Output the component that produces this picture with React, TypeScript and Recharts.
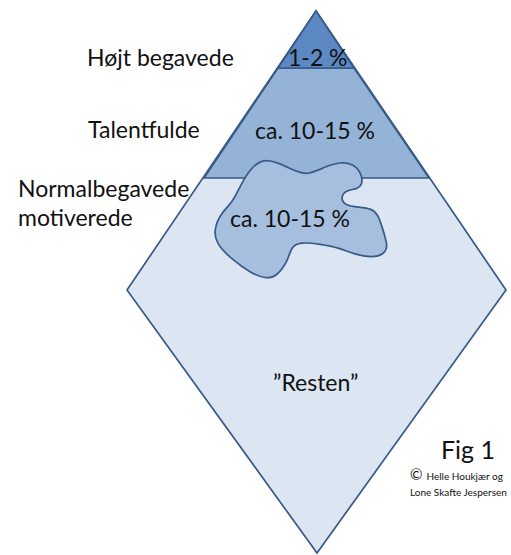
import { ScatterChart, Scatter, XAxis, YAxis } from 'recharts';

// diagram drawn in pixel-like units: x to the right, y downwards
const diamond = [
  { x: 316, y: 11 },
  { x: 506, y: 290 },
  { x: 317, y: 553 },
  { x: 127, y: 290 },
];

const talentBand = [
  { x: 278, y: 68 },
  { x: 354, y: 68 },
  { x: 429, y: 178 },
  { x: 204, y: 178 },
];

const topBand = [
  { x: 316, y: 11 },
  { x: 354, y: 68 },
  { x: 278, y: 68 },
];

const blob = [
  { x: 262, y: 159 }, { x: 277, y: 162 }, { x: 297, y: 172 }, { x: 308, y: 175 },
  { x: 327, y: 166 }, { x: 340, y: 162 }, { x: 354, y: 164 }, { x: 361, y: 173 },
  { x: 363, y: 183 }, { x: 358, y: 189 }, { x: 347, y: 190 }, { x: 341, y: 196 },
  { x: 343, y: 204 }, { x: 353, y: 207 }, { x: 373, y: 208 }, { x: 379, y: 217 },
  { x: 384, y: 233 }, { x: 388, y: 247 }, { x: 384, y: 254 }, { x: 373, y: 258 },
  { x: 353, y: 254 }, { x: 340, y: 248 }, { x: 320, y: 244 }, { x: 300, y: 242 },
  { x: 291, y: 247 }, { x: 288, y: 261 }, { x: 277, y: 276 }, { x: 267, y: 279 },
  { x: 252, y: 274 }, { x: 230, y: 258 }, { x: 216, y: 243 }, { x: 214, y: 230 },
  { x: 220, y: 214 }, { x: 233, y: 202 }, { x: 240, y: 186 }, { x: 250, y: 169 },
];

const stroke = '#385a88';
const font = 'Lato, "Open Sans", sans-serif';

const noDot = () => <g />;

function Txt({ x, y, size, children }: { x: number; y: number; size: number; children: any }) {
  return (
    <div
      style={{
        position: 'absolute',
        left: x,
        top: y,
        transform: 'translateY(-50%)',
        fontSize: size,
        lineHeight: 1,
        whiteSpace: 'nowrap',
        color: '#111',
        fontFamily: font,
      }}
    >
      {children}
    </div>
  );
}

export default function App() {
  return (
    <div style={{ position: 'absolute', left: 0, top: 0, width: 511, height: 555, background: '#fff' }}>
      <ScatterChart width={511} height={555} margin={{ top: 0, right: 0, bottom: 0, left: 0 }}>
        <XAxis type="number" dataKey="x" domain={[0, 511]} hide />
        <YAxis type="number" dataKey="y" domain={[0, 555]} reversed hide />
        <Scatter data={diamond} shape={noDot} lineJointType="linearClosed" isAnimationActive={false}
          line={{ fill: '#dce6f2', stroke, strokeWidth: 1.7 }} />
        <Scatter data={talentBand} shape={noDot} lineJointType="linearClosed" isAnimationActive={false}
          line={{ fill: '#95b3d7', stroke, strokeWidth: 1.7 }} />
        <Scatter data={topBand} shape={noDot} lineJointType="linearClosed" isAnimationActive={false}
          line={{ fill: '#5c88c3', stroke, strokeWidth: 1.7 }} />
        <Scatter data={blob} shape={noDot} lineJointType="basisClosed" isAnimationActive={false}
          line={{ fill: '#a6bfdf', stroke, strokeWidth: 1.7 }} />
      </ScatterChart>

      <Txt x={87} y={57} size={23}>Højt begavede</Txt>
      <Txt x={88} y={129} size={23}>Talentfulde</Txt>
      <Txt x={18} y={188} size={23}>Normalbegavede</Txt>
      <Txt x={18} y={217} size={23}>motiverede</Txt>
      <Txt x={288} y={57} size={23}>1-2 %</Txt>
      <Txt x={255} y={130} size={23}>ca. 10-15 %</Txt>
      <Txt x={230} y={218} size={23}>ca. 10-15 %</Txt>
      <Txt x={273} y={382} size={23}>”Resten”</Txt>
      <Txt x={441} y={449} size={25}>Fig 1</Txt>
      <Txt x={410} y={474} size={10}>
        <span style={{ fontSize: 15, marginRight: 4 }}>©</span>Helle Houkjær og
      </Txt>
      <Txt x={410} y={492} size={10}>Lone Skafte Jespersen</Txt>
    </div>
  );
}
